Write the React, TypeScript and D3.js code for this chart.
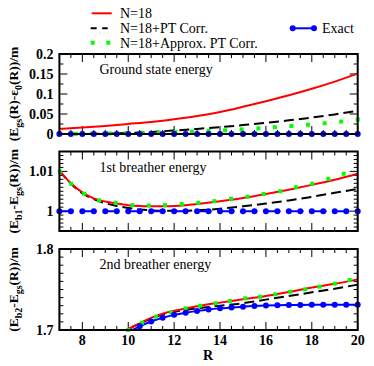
import React from 'react';
import * as d3 from 'd3';

// ---------------- data ----------------
const xMajorTicks = [8, 10, 12, 14, 16, 18, 20];
const xTickLabels = ['8', '10', '12', '14', '16', '18', '20'];

const legendNames = ['N=18', 'N=18+PT Corr.', 'N=18+Approx. PT Corr.', 'Exact'];
const panelTitles = ['Ground state energy', '1st breather energy', '2nd breather energy'];

// Exact (blue) R grid
const exactR = [7, 7.5, 8, 8.5, 9, 9.5, 10, 10.5, 11, 11.5, 12, 12.5, 13, 13.5, 14, 14.5, 15, 15.5, 16, 16.5, 17, 17.5, 18, 18.5, 19, 19.5, 20];

// Panel 1: ground state
const gsCurveR = [7, 8, 9, 10, 11, 12, 13, 14, 15, 16, 17, 18, 19, 20];
const gsN18 = [0.013, 0.016, 0.02, 0.025, 0.03, 0.037, 0.045, 0.055, 0.068, 0.082, 0.097, 0.113, 0.131, 0.151];
const gsPT = [0.0, 0.0003, 0.001, 0.0025, 0.0052, 0.0088, 0.0128, 0.0172, 0.0222, 0.0278, 0.0342, 0.041, 0.049, 0.058];
const gsApproxR = [7, 7.72, 8.44, 9.17, 9.89, 10.61, 11.33, 12.06, 12.78, 13.5, 14.22, 14.94, 15.67, 16.39, 17.11, 17.83, 18.56, 19.28, 20];
const gsApprox = [0.0, 0.0003, 0.0008, 0.0015, 0.0022, 0.003, 0.0038, 0.0048, 0.006, 0.0075, 0.0093, 0.0115, 0.014, 0.017, 0.02, 0.0232, 0.0268, 0.031, 0.0365];
const gsExact = [0, 0, 0, 0, 0, 0, 0, 0, 0, 0, 0, 0, 0, 0, 0, 0, 0, 0, 0, 0, 0, 0, 0, 0, 0, 0, 0];

// Panel 2: 1st breather
const b1CurveR = [7, 7.5, 8, 8.5, 9, 9.5, 10, 10.5, 11, 11.5, 12, 12.5, 13, 14, 15, 16, 17, 18, 19, 20];
const b1N18 = [1.0102, 1.007, 1.0047, 1.0032, 1.0024, 1.0019, 1.0015, 1.0013, 1.0012, 1.0012, 1.0013, 1.0015, 1.0018, 1.0025, 1.0033, 1.0043, 1.0054, 1.0066, 1.0079, 1.0094];
const b1PT = [1.0102, 1.0069, 1.0045, 1.003, 1.002, 1.0013, 1.0008, 1.0004, 1.0002, 1.0001, 1.0001, 1.0001, 1.0002, 1.0006, 1.0012, 1.0019, 1.0027, 1.0036, 1.0046, 1.0056];
const b1ApproxR = [7.02, 7.51, 8.08, 8.73, 9.45, 10.18, 10.9, 11.6, 12.33, 13.05, 13.75, 14.48, 15.2, 15.9, 16.63, 17.31, 18.02, 18.72, 19.39];
const b1Approx = [1.01, 1.0069, 1.0044, 1.0027, 1.0021, 1.0015, 1.0014, 1.0015, 1.0018, 1.0021, 1.0025, 1.0031, 1.0036, 1.0043, 1.005, 1.006, 1.0069, 1.0081, 1.0094];
const b1Exact = [1, 1, 1, 1, 1, 1, 1, 1, 1, 1, 1, 1, 1, 1, 1, 1, 1, 1, 1, 1, 1, 1, 1, 1, 1, 1, 1];

// Panel 3: 2nd breather
const b2CurveR = [9.5, 10, 10.5, 11, 11.5, 12, 12.5, 13, 13.5, 14, 15, 16, 17, 18, 19, 20];
const b2N18 = [1.69, 1.701, 1.7083, 1.715, 1.72, 1.7237, 1.7266, 1.7292, 1.7318, 1.7338, 1.738, 1.742, 1.747, 1.7525, 1.757, 1.7625];
const b2PT = [1.689, 1.7005, 1.708, 1.714, 1.719, 1.7225, 1.7248, 1.7268, 1.7285, 1.73, 1.733, 1.7375, 1.742, 1.7465, 1.751, 1.756];
const b2ApproxR = [10.0, 10.6, 11.21, 11.86, 12.5, 13.13, 13.81, 14.43, 15.1, 15.75, 16.41, 17.06, 17.71, 18.34, 19.0, 19.65];
const b2Approx = [1.7, 1.709, 1.7164, 1.7218, 1.7268, 1.73, 1.733, 1.7358, 1.7391, 1.7411, 1.7441, 1.7473, 1.7502, 1.7535, 1.7572, 1.7617];
const b2ExactR = [10, 10.5, 11, 11.5, 12, 12.5, 13, 13.5, 14, 14.5, 15, 15.5, 16, 16.5, 17, 17.5, 18, 18.5, 19, 19.5, 20];
const b2Exact = [1.6975, 1.7045, 1.7105, 1.7152, 1.7187, 1.7214, 1.7236, 1.7254, 1.7267, 1.7277, 1.7288, 1.7296, 1.7302, 1.7306, 1.7309, 1.731, 1.7311, 1.7312, 1.7312, 1.7312, 1.7312];

// ---------------- layout ----------------
const W = 374;
const H = 366;
const X0 = 59.4;
const X1 = 357.7;
const FONT = "'Liberation Serif', 'Times New Roman', serif";
const RED = '#ff0000';
const GREEN = '#00ff00';
const BLUE = '#0000ff';

const x = d3.scaleLinear().domain([7, 20]).range([X0, X1]);
const xMinor = d3.range(7, 20.0001, 0.5);

type PanelCfg = {
  id: string;
  top: number;
  bottom: number;
  domain: [number, number];
  major: number[];
  labels: string[];
  minorStep: number;
  title: string;
  curveR: number[];
  n18: number[];
  pt: number[];
  apR: number[];
  ap: number[];
  exR: number[];
  ex: number[];
  exDash?: string;
  clip?: boolean;
};

const panels: PanelCfg[] = [
  {
    id: 'p1', top: 54, bottom: 134, domain: [0, 0.2],
    major: [0, 0.05, 0.1, 0.15, 0.2], labels: ['0', '0.05', '0.1', '0.15', '0.2'], minorStep: 0.025,
    title: panelTitles[0], curveR: gsCurveR, n18: gsN18, pt: gsPT, apR: gsApproxR, ap: gsApprox, exR: exactR, ex: gsExact,
  },
  {
    id: 'p2', top: 151.5, bottom: 231, domain: [0.995, 1.015],
    major: [1, 1.01], labels: ['1', '1.01'], minorStep: 0.001,
    title: panelTitles[1], curveR: b1CurveR, n18: b1N18, pt: b1PT, apR: b1ApproxR, ap: b1Approx, exR: exactR, ex: b1Exact,
    exDash: '14 9',
  },
  {
    id: 'p3', top: 249, bottom: 330, domain: [1.7, 1.8],
    major: [1.7, 1.8], labels: ['1.7', '1.8'], minorStep: 0.01,
    title: panelTitles[2], curveR: b2CurveR, n18: b2N18, pt: b2PT, apR: b2ApproxR, ap: b2Approx, exR: b2ExactR, ex: b2Exact,
    clip: true,
  },
];

function Panel({ cfg }: { cfg: PanelCfg }) {
  const y = d3.scaleLinear().domain(cfg.domain).range([cfg.bottom, cfg.top]);
  const line = d3
    .line<[number, number]>()
    .x((d) => x(d[0]))
    .y((d) => y(d[1]))
    .curve(d3.curveMonotoneX);
  const pairs = (rs: number[], vs: number[]) => rs.map((r, i) => [r, vs[i]] as [number, number]);
  const yMinor = d3.range(cfg.domain[0], cfg.domain[1] + cfg.minorStep / 2, cfg.minorStep);
  const isMajorY = (v: number) => cfg.major.some((m) => Math.abs(m - v) < cfg.minorStep / 10);
  const isMajorX = (v: number) => xMajorTicks.some((m) => Math.abs(m - v) < 0.01);
  const MAJ = 8;
  const MIN = 4;
  const clip = cfg.clip ? `url(#clip-${cfg.id})` : undefined;
  const exPts = pairs(cfg.exR, cfg.ex);
  return (
    <g>
      <defs>
        <clipPath id={`clip-${cfg.id}`}>
          <rect x={X0} y={cfg.top} width={X1 - X0} height={cfg.bottom - cfg.top} />
        </clipPath>
      </defs>
      {/* ticks */}
      <g stroke="#000" strokeWidth={1}>
        {xMinor.map((v) => {
          const len = isMajorX(v) ? MAJ : MIN;
          const xx = x(v);
          return (
            <g key={`xt${v}`}>
              <line x1={xx} x2={xx} y1={cfg.bottom} y2={cfg.bottom - len} />
              <line x1={xx} x2={xx} y1={cfg.top} y2={cfg.top + len} />
            </g>
          );
        })}
        {yMinor.map((v) => {
          const len = isMajorY(v) ? MAJ : MIN;
          const yy = y(v);
          return (
            <g key={`yt${v}`}>
              <line x1={X0} x2={X0 + len} y1={yy} y2={yy} />
              <line x1={X1} x2={X1 - len} y1={yy} y2={yy} />
            </g>
          );
        })}
      </g>
      {/* y tick labels */}
      {cfg.major.map((v, i) => (
        <text key={`yl${v}`} x={53.5} y={y(v)} dy="0.35em" textAnchor="end" fontFamily={FONT} fontWeight="bold" fontSize={14}>
          {cfg.labels[i]}
        </text>
      ))}
      {/* title */}
      <text x={99.5} y={cfg.top + 20} fontFamily={FONT} fontSize={14}>
        {cfg.title}
      </text>
      {/* series */}
      <g clipPath={clip}>
        <path d={line(pairs(cfg.curveR, cfg.pt)) || ''} fill="none" stroke="#000" strokeWidth={2} strokeDasharray="10 5" />
        <path d={line(pairs(cfg.curveR, cfg.n18)) || ''} fill="none" stroke={RED} strokeWidth={2} />
        <path d={line(exPts) || ''} fill="none" stroke={BLUE} strokeWidth={2} strokeDasharray={cfg.exDash} />
      </g>
      {pairs(cfg.apR, cfg.ap).map((d, i) => (
        <rect key={`ap${i}`} x={x(d[0]) - 2} y={y(d[1]) - 2} width={4} height={4} fill={GREEN} />
      ))}
      {exPts
        .filter((d) => d[1] >= cfg.domain[0] - 1e-9)
        .map((d, i) => (
          <circle key={`ex${i}`} cx={x(d[0])} cy={y(d[1])} r={3} fill={BLUE} />
        ))}
      {/* frame */}
      <rect x={X0} y={cfg.top} width={X1 - X0} height={cfg.bottom - cfg.top} fill="none" stroke="#000" strokeWidth={2} />
    </g>
  );
}

function YTitle({ cx, cy, children }: { cx: number; cy: number; children: React.ReactNode }) {
  return (
    <text transform={`translate(${cx},${cy}) rotate(-90)`} textAnchor="middle" fontFamily={FONT} fontWeight="bold" fontSize={13.5}>
      {children}
    </text>
  );
}

const sub = (t: string) => (
  <tspan fontSize={10} dy={4}>
    {t}
  </tspan>
);

export default function App() {
  const p3 = panels[2];
  return (
    <svg width={W} height={H} style={{ position: 'fixed', left: 0, top: 0, background: '#fff' }}>
      <rect x={0} y={0} width={W} height={H} fill="#fff" />
      {/* legend */}
      <g fontFamily={FONT} fontSize={14}>
        <line x1={91.7} x2={111.7} y1={13.3} y2={13.3} stroke={RED} strokeWidth={2} />
        <text x={120} y={18}>{legendNames[0]}</text>
        <line x1={90.7} x2={107.7} y1={28.3} y2={28.3} stroke="#000" strokeWidth={2} strokeDasharray="6 5.5" />
        <text x={120} y={33}>{legendNames[1]}</text>
        <rect x={90.7} y={40.7} width={4} height={4} fill={GREEN} />
        <rect x={106.3} y={40.7} width={4} height={4} fill={GREEN} />
        <text x={120} y={48}>{legendNames[2]}</text>
        <line x1={292.7} x2={314} y1={28.3} y2={28.3} stroke={BLUE} strokeWidth={2} />
        <circle cx={292.7} cy={28.3} r={3} fill={BLUE} />
        <circle cx={314} cy={28.3} r={3} fill={BLUE} />
        <text x={322} y={33}>{legendNames[3]}</text>
      </g>
      {panels.map((p) => (
        <Panel key={p.id} cfg={p} />
      ))}
      {/* x tick labels */}
      {xMajorTicks.map((v, i) => (
        <text key={`xl${v}`} x={x(v)} y={345} textAnchor="middle" fontFamily={FONT} fontWeight="bold" fontSize={14}>
          {xTickLabels[i]}
        </text>
      ))}
      <text x={208} y={360} textAnchor="middle" fontFamily={FONT} fontWeight="bold" fontSize={14}>
        R
      </text>
      {/* y titles */}
      <YTitle cx={18} cy={(panels[0].top + panels[0].bottom) / 2}>
        (E{sub('gs')}
        <tspan dy={-4}>(R)-ε</tspan>
        {sub('0')}
        <tspan dy={-4}>(R))/m</tspan>
      </YTitle>
      <YTitle cx={18} cy={(panels[1].top + panels[1].bottom) / 2}>
        (E{sub('b1')}
        <tspan dy={-4}>-E</tspan>
        {sub('gs')}
        <tspan dy={-4}>(R))/m</tspan>
      </YTitle>
      <YTitle cx={18} cy={(p3.top + p3.bottom) / 2}>
        (E{sub('b2')}
        <tspan dy={-4}>-E</tspan>
        {sub('gs')}
        <tspan dy={-4}>(R))/m</tspan>
      </YTitle>
    </svg>
  );
}
